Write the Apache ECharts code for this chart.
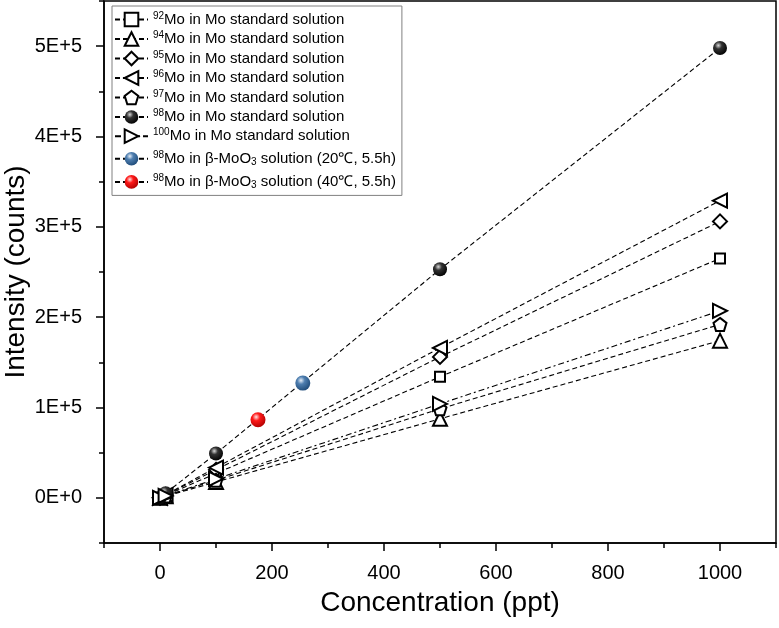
<html>
<head>
    <meta charset="utf-8" />
    <title>Mo isotope intensity</title>
    <script src="https://cdn.jsdelivr.net/npm/echarts@6.0.0/dist/echarts.min.js"></script>
    <style>
        body { margin: 0; background: #fff; }
        #chart { width: 779px; height: 628px; }
    </style>
</head>
<body>
<div id="chart"></div>
<script type="text/javascript">
    // concentrations (ppt) of the Mo standard solutions
    var conc = [0, 10, 100, 500, 1000];
    // intensity (counts) per isotope
    var mo92 = [0, 2700, 27000, 134000, 265000];
    var mo94 = [0, 1750, 17500, 87500, 174000];
    var mo95 = [0, 3100, 31000, 156000, 306000];
    var mo96 = [0, 3350, 33500, 166000, 329000];
    var mo97 = [0, 1950, 19500, 98500, 192000];
    var mo98 = [0, 5000, 49000, 253000, 498000];
    var mo100 = [0, 2100, 21000, 104000, 207000];
    // beta-MoO3 samples: [concentration, intensity]
    var beta20 = [255, 127000];
    var beta40 = [175, 86500];

    var xMajor = [0, 200, 400, 600, 800, 1000];
    var xMinor = [-100, 100, 300, 500, 700, 900, 1100];
    var yMajor = [0, 100000, 200000, 300000, 400000, 500000];
    var yMinor = [-50000, 50000, 150000, 250000, 350000, 450000, 550000];

    var FONT = 'Liberation Sans, Arial, sans-serif';

    function pairs(ys) {
        return conc.map(function (c, i) { return [c, ys[i]]; });
    }

    function sphere(light, mid, dark) {
        return {
            type: 'radial', x: 0.38, y: 0.32, r: 0.72,
            colorStops: [
                { offset: 0, color: light },
                { offset: 0.35, color: mid },
                { offset: 1, color: dark }
            ]
        };
    }

    var openStyle = { color: '#fff', borderColor: '#000', borderWidth: 2 };
    var dashed = { color: '#000', width: 1.1, type: [5, 3] };
    var pentagon = 'path://M0,-1 L0.951,-0.309 L0.588,0.809 L-0.588,0.809 L-0.951,-0.309 Z';

    function stdSeries(name, ys, symbol, size, rotate, extra) {
        var s = {
            name: name,
            type: 'line',
            data: pairs(ys),
            symbol: symbol,
            symbolSize: size,
            symbolRotate: rotate || 0,
            showAllSymbol: true,
            lineStyle: dashed,
            itemStyle: openStyle,
            emphasis: { disabled: true },
            z: 3
        };
        if (extra) Object.keys(extra).forEach(function (k) { s[k] = extra[k]; });
        return s;
    }

    var series = [
        stdSeries('92Mo in Mo standard solution', mo92, 'rect', 10),
        stdSeries('94Mo in Mo standard solution', mo94, 'triangle', 14),
        stdSeries('95Mo in Mo standard solution', mo95, 'diamond', 14),
        stdSeries('96Mo in Mo standard solution', mo96, 'triangle', 14, 90),
        stdSeries('97Mo in Mo standard solution', mo97, pentagon, 13),
        stdSeries('98Mo in Mo standard solution', mo98, 'circle', 14, 0, {
            itemStyle: { color: sphere('#d8d8d8', '#333', '#000'), borderWidth: 0 }
        }),
        stdSeries('100Mo in Mo standard solution', mo100, 'triangle', 14, -90, {
            lineStyle: { color: '#000', width: 1.1, type: [6, 3, 2, 3] }
        }),
        {
            name: '98Mo in β-MoO3 solution (20℃, 5.5h)',
            type: 'line', data: [beta20], symbol: 'circle', symbolSize: 15,
            lineStyle: dashed,
            itemStyle: { color: sphere('#e6eef8', '#4f7fb0', '#1e4a78') },
            emphasis: { disabled: true }, z: 4
        },
        {
            name: '98Mo in β-MoO3 solution (40℃, 5.5h)',
            type: 'line', data: [beta40], symbol: 'circle', symbolSize: 15,
            lineStyle: dashed,
            itemStyle: { color: sphere('#ffe4e4', '#ff1a1a', '#b00000') },
            emphasis: { disabled: true }, z: 4
        }
    ];

    // "98Mo in β-MoO3 ..." -> superscript mass number, subscript 3
    function legendText(name) {
        var m = name.match(/^(\d+)Mo(.*)$/);
        var parts = ('Mo' + m[2]).split('MoO3');
        var out = '{sup|' + m[1] + '}{t|' + parts[0] + '}';
        if (parts.length > 1) {
            out = '{sup|' + m[1] + '}{t|' + parts[0] + 'MoO}{sub|3}{t|' + parts[1] + '}';
        }
        return out;
    }

    var chart = echarts.init(document.getElementById('chart'), null, { renderer: 'canvas' });

    var axisLine = { show: true, onZero: false, lineStyle: { color: '#000', width: 1.5 } };

    var option = {
        animation: false,
        backgroundColor: '#fff',
        grid: {
            left: 104, right: 3, top: 1, bottom: 85,
            show: true, borderColor: '#000', borderWidth: 1.5,
            containLabel: false,
            outerBoundsMode: 'none'
        },
        legend: {
            orient: 'vertical',
            left: 112, top: 6,
            padding: [5, 6, 5, 2],
            itemWidth: 33, itemHeight: 17, itemGap: 3.2,
            borderColor: '#808080', borderWidth: 1,
            data: series.map(function (s) { return s.name; }),
            formatter: legendText,
            textStyle: {
                fontFamily: FONT, fontSize: 15, color: '#000',
                rich: {
                    t: { fontFamily: FONT, fontSize: 15, color: '#000', lineHeight: 17 },
                    sup: { fontFamily: FONT, fontSize: 10, color: '#000', verticalAlign: 'top', lineHeight: 13 },
                    sub: { fontFamily: FONT, fontSize: 10, color: '#000', verticalAlign: 'bottom', lineHeight: 10, padding: [10, 0, 0, 0] }
                }
            }
        },
        xAxis: [{
            type: 'value', min: -100, max: 1100,
            name: 'Concentration (ppt)', nameLocation: 'middle', nameGap: 46,
            nameMoveOverlap: false,
            nameTextStyle: { fontFamily: FONT, fontSize: 28, color: '#000' },
            axisLine: axisLine,
            axisTick: { show: true, length: 8, lineStyle: { color: '#000', width: 1.5 }, customValues: xMajor },
            axisLabel: {
                fontFamily: FONT, fontSize: 20, color: '#000', margin: 20, customValues: xMajor,
                formatter: function (v) { return String(v); }
            },
            splitLine: { show: false }
        }, {
            type: 'value', min: -100, max: 1100, position: 'bottom',
            axisLine: { show: false, onZero: false },
            axisTick: { show: true, length: 5, lineStyle: { color: '#000', width: 1.5 }, customValues: xMinor },
            axisLabel: { show: false },
            splitLine: { show: false }
        }],
        yAxis: [{
            type: 'value', min: -50000, max: 550000,
            name: 'Intensity (counts)', nameLocation: 'middle', nameGap: 74,
            nameMoveOverlap: false,
            nameTextStyle: { fontFamily: FONT, fontSize: 28, color: '#000' },
            axisLine: axisLine,
            axisTick: { show: true, length: 8, lineStyle: { color: '#000', width: 1.5 }, customValues: yMajor },
            axisLabel: {
                fontFamily: FONT, fontSize: 20, color: '#000', margin: 22, customValues: yMajor,
                formatter: function (v) { return v === 0 ? '0E+0' : (v / 100000) + 'E+5'; }
            },
            splitLine: { show: false }
        }, {
            type: 'value', min: -50000, max: 550000, position: 'left',
            axisLine: { show: false, onZero: false },
            axisTick: { show: true, length: 5, lineStyle: { color: '#000', width: 1.5 }, customValues: yMinor },
            axisLabel: { show: false },
            splitLine: { show: false }
        }],
        series: series
    };
    chart.setOption(option);
</script>
</body>
</html>
